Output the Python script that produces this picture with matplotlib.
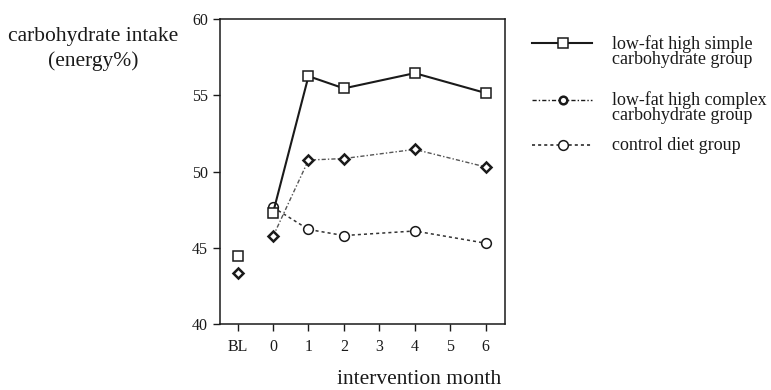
import numpy as np
import matplotlib.pyplot as plt
from matplotlib.lines import Line2D

plt.rcParams['font.family'] = ['Liberation Serif', 'DejaVu Serif']

# x positions: BL = -1, then intervention months
tick_pos = [-1, 0, 1, 2, 3, 4, 5, 6]
tick_labels = ['BL', '0', '1', '2', '3', '4', '5', '6']

months = [0, 1, 2, 4, 6]
simple = [47.3, 56.25, 55.45, 56.45, 55.15]
complex_ = [45.75, 50.75, 50.85, 51.45, 50.3]
control = [47.65, 46.2, 45.8, 46.1, 45.3]

bl_simple = 44.45
bl_complex = 43.35

fig = plt.figure(figsize=(7.71, 3.9), dpi=100)
ax = fig.add_axes([0.2853, 0.1692, 0.3697, 0.7821])

ink = '#1a1a1a'
ax.plot(months, control, color='#333333', lw=1.1, ls=(0, (2, 2)),
        marker='o', ms=7, mfc='white', mec=ink, mew=1.1, zorder=2)
ax.plot(months, complex_, color='#555555', lw=1.0, ls=(0, (3, 1.5, 1, 1.5)),
        marker='D', ms=5, mfc='white', mec=ink, mew=1.8, zorder=3)
ax.plot(months, simple, color=ink, lw=1.5, ls='-',
        marker='s', ms=7.5, mfc='white', mec=ink, mew=1.1, zorder=4)

ax.plot([-1], [bl_simple], ls='none', marker='s', ms=7.5, mfc='white', mec=ink, mew=1.1)
ax.plot([-1], [bl_complex], ls='none', marker='D', ms=5, mfc='white', mec=ink, mew=1.8)

ax.set_xlim(-1.5, 6.55)
ax.set_ylim(40, 60)
ax.set_yticks([40, 45, 50, 55, 60])
ax.set_xticks(tick_pos)
ax.set_xticklabels(tick_labels)
ax.tick_params(direction='out', length=5, width=1, labelsize=11.5, colors=ink)
ax.tick_params(axis='x', pad=6)
for s in ax.spines.values():
    s.set_linewidth(1.1)
    s.set_color(ink)

fig.text(93 / 771, 1 - 37 / 390, 'carbohydrate intake', ha='center', va='center',
         fontsize=15.5, color=ink)
fig.text(93 / 771, 1 - 61 / 390, '(energy%)', ha='center', va='center',
         fontsize=15.5, color=ink)
fig.text(419 / 771, 1 - 379 / 390, 'intervention month', ha='center', va='center',
         fontsize=15.5, color=ink)

# legend drawn by hand
entries = [
    (43, 44, '-', 1.5, 's', 7.5, 1.1, ['low-fat high simple', 'carbohydrate group']),
    (100, 100, (0, (3, 1.5, 1, 1.5)), 1.0, 'o', 5.5, 1.8, ['low-fat high complex', 'carbohydrate group']),
    (145, 145, (0, (2, 2)), 1.1, 'o', 7, 1.1, ['control diet group']),
]
for yh, yt, ls, lw, mk, ms, mew, lines in entries:
    yf = 1 - yh / 390
    fig.add_artist(Line2D([532 / 771, 592 / 771], [yf, yf], color=ink, lw=lw, ls=ls,
                          transform=fig.transFigure))
    fig.add_artist(Line2D([563 / 771], [yf], ls='none', marker=mk, ms=ms, mfc='white',
                          mec=ink, mew=mew, transform=fig.transFigure))
    for i, t in enumerate(lines):
        fig.text(612 / 771, 1 - (yt + 16 * i) / 390, t, ha='left', va='center',
                 fontsize=13, color=ink)

fig.savefig('out.png', dpi=100)
